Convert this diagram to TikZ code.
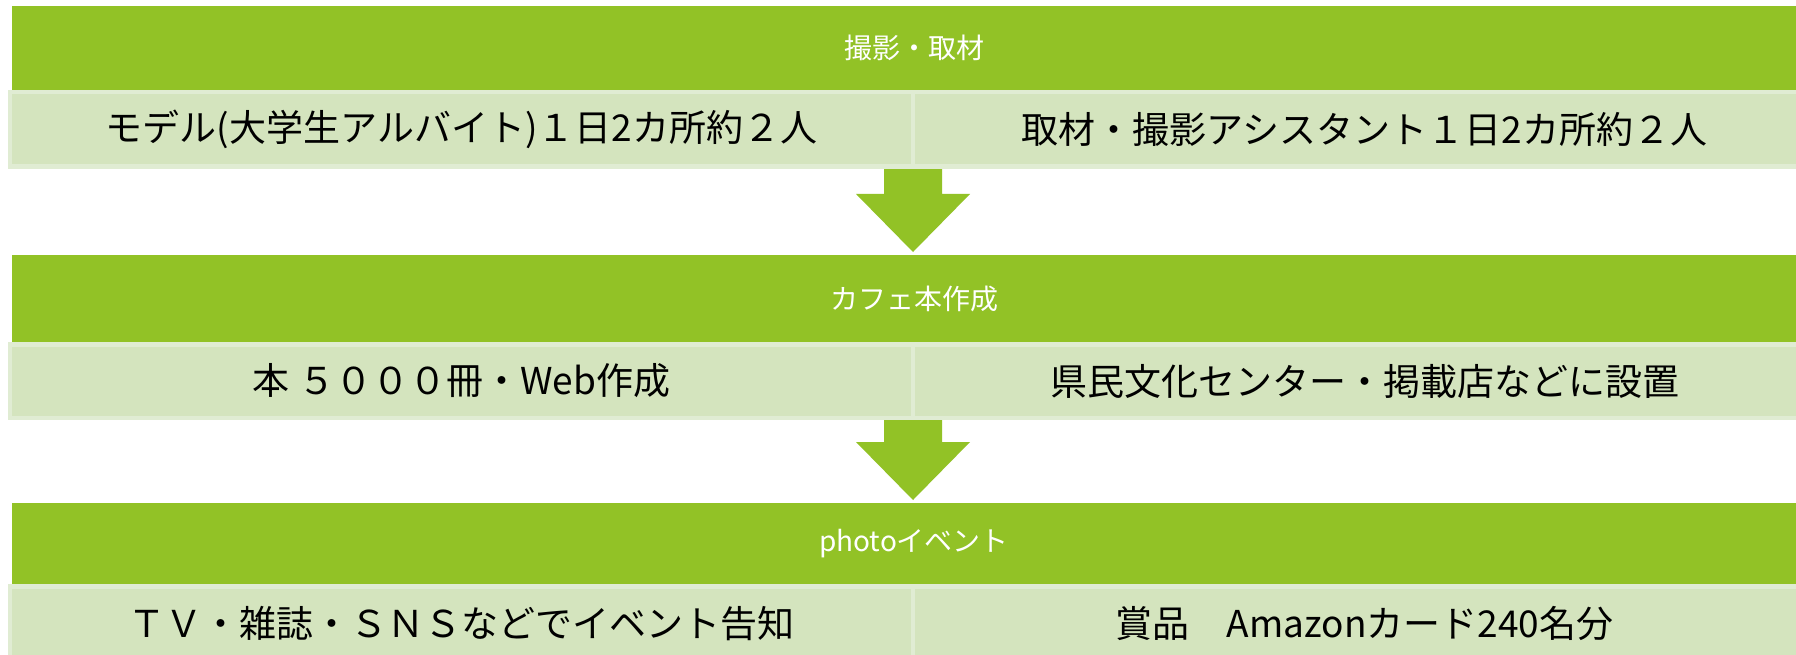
\documentclass[tikz,border=0pt]{standalone}
\usepackage{fontspec}
\newfontfamily\jp{Noto Sans CJK JP}
\usetikzlibrary{calc}
\definecolor{hdrgreen}{RGB}{146,194,38}
\definecolor{lightfill}{RGB}{212,228,190}
\definecolor{lightedge}{RGB}{224,236,211}
\tikzset{
  hdr/.style={fill=hdrgreen, draw=none, minimum width=1804pt, anchor=north west,
    inner sep=0pt, outer sep=0pt, text=white, font=\jp\fontsize{28}{34}\selectfont},
  cell/.style={fill=lightfill, draw=lightedge, line width=4.5pt, minimum width=903pt,
    anchor=north west, inner sep=0pt, outer sep=0pt, text=black,
    font=\jp\fontsize{37}{44}\selectfont},
  flowarrow/.style={fill=hdrgreen, draw=none},
}
\begin{document}
\begin{tikzpicture}[x=1pt,y=-1pt]
\useasboundingbox (0,0) rectangle (1796,655);
\clip (0,0) rectangle (1796,655);
\fill[white] (0,0) rectangle (1796,655);
% headers
\node[hdr, minimum height=84pt] (h1) at (12,6) {撮影・取材};
\node[hdr, minimum height=87pt] (h2) at (12,255) {カフェ本作成};
\node[hdr, minimum height=81pt] (h3) at (12,503) {photoイベント};
% cells
\node[cell, minimum height=74.5pt] (l1) at (10,92.25) {モデル(大学生アルバイト)１日2カ所約２人};
\node[cell, minimum height=74.5pt] (r1) at (913,92.25) {取材・撮影アシスタント１日2カ所約２人};
\node[cell, minimum height=73.5pt] (l2) at (10,344.25) {本 ５０００冊・Web作成};
\node[cell, minimum height=73.5pt] (r2) at (913,344.25) {県民文化センター・掲載店などに設置};
\node[cell, minimum height=74pt] (l3) at (10,586.25) {ＴＶ・雑誌・ＳＮＳなどでイベント告知};
\node[cell, minimum height=74pt] (r3) at (913,586.25) {賞品　Amazonカード240名分};
% arrows
\coordinate (top1) at ($(l1.south east)+(0,2.3)$);
\coordinate (tip1) at ($(l1.south east |- h2.north)+(0,-3)$);
\fill[flowarrow] ($(top1)+(-29,0)$) -- ($(tip1)+(-29,-58)$) -- ($(tip1)+(-57,-58)$)
  -- (tip1) -- ($(tip1)+(57,-58)$) -- ($(tip1)+(29,-58)$) -- ($(top1)+(29,0)$) -- cycle;
\coordinate (top2) at ($(l2.south east)+(0,2.3)$);
\coordinate (tip2) at ($(l2.south east |- h3.north)+(0,-3)$);
\fill[flowarrow] ($(top2)+(-29,0)$) -- ($(tip2)+(-29,-58)$) -- ($(tip2)+(-57,-58)$)
  -- (tip2) -- ($(tip2)+(57,-58)$) -- ($(tip2)+(29,-58)$) -- ($(top2)+(29,0)$) -- cycle;
\end{tikzpicture}
\end{document}
